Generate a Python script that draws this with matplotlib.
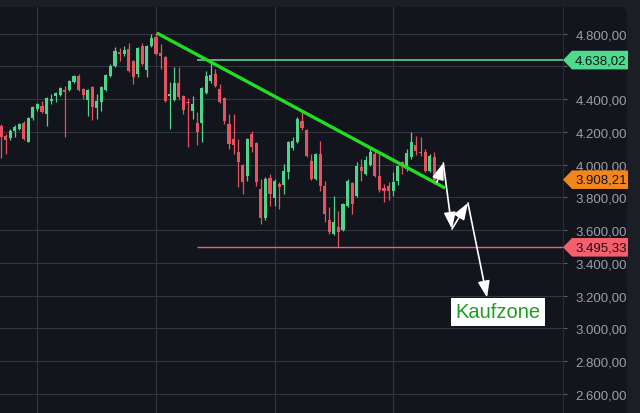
import matplotlib
matplotlib.use('Agg')
from matplotlib import pyplot as plt
from matplotlib.patches import Polygon, FancyBboxPatch
from matplotlib.transforms import IdentityTransform

plt.rcParams['font.family'] = ['Liberation Sans', 'DejaVu Sans']

# candle data (daily)
opens = [4237, 4173, 4160, 4207, 4217, 4254, 4140, 4282, 4339, 4356, 4309, 4390,
         4417, 4425, 4457, 4457, 4506, 4539, 4461, 4396, 4472, 4343, 4384, 4457,
         4543, 4604, 4689, 4677, 4705, 4634, 4553, 4726, 4579, 4722, 4777, 4681,
         4655, 4417, 4394, 4496, 4417, 4384, 4329, 4254, 4254, 4437, 4512, 4553,
         4461, 4405, 4248, 4156, 4079, 3997, 3932, 4187, 4132, 3851, 3672, 3916,
         3796, 3882, 3875, 3953, 4099, 4136, 4268, 4213, 4024, 3912, 4065, 3868,
         3664, 3576, 3617, 3603, 3749, 3888, 3810, 3983, 3943, 3997, 4065, 3932,
         3855, 3871, 3841, 3902, 4014, 3973, 4044, 4120, 4075, 4079, 3963, 4044]
highs = [4245, 4187, 4215, 4240, 4255, 4268, 4288, 4360, 4375, 4390, 4415, 4430,
         4445, 4475, 4481, 4515, 4547, 4553, 4468, 4462, 4480, 4431, 4478, 4555,
         4612, 4716, 4711, 4722, 4742, 4640, 4716, 4742, 4732, 4797, 4807, 4736,
         4665, 4504, 4594, 4594, 4425, 4406, 4417, 4321, 4475, 4571, 4624, 4583,
         4492, 4415, 4309, 4309, 4156, 4004, 4162, 4207, 4140, 3912, 3922, 3943,
         3910, 3894, 4004, 4145, 4168, 4290, 4323, 4220, 4065, 4072, 4146, 3900,
         3741, 3810, 3719, 3765, 3910, 3895, 4016, 4034, 4052, 4099, 4085, 4065,
         3881, 3894, 3955, 4000, 4024, 4095, 4197, 4173, 4166, 4095, 4065, 4079]
lows = [4040, 4065, 4150, 4168, 4210, 4150, 4135, 4275, 4330, 4312, 4237, 4370,
        4382, 4418, 4166, 4450, 4500, 4450, 4400, 4298, 4274, 4278, 4329, 4450,
        4535, 4598, 4634, 4665, 4565, 4492, 4533, 4605, 4535, 4715, 4670, 4583,
        4385, 4217, 4388, 4400, 4309, 4109, 4278, 4120, 4140, 4430, 4498, 4475,
        4378, 4250, 4095, 4065, 3861, 3820, 3902, 4077, 3871, 3637, 3665, 3745,
        3749, 3729, 3820, 3912, 4090, 4130, 4210, 4045, 3905, 3905, 3841, 3648,
        3576, 3570, 3495, 3595, 3740, 3698, 3800, 3902, 3935, 3990, 3924, 3835,
        3770, 3786, 3806, 3875, 3943, 3963, 4034, 4058, 4050, 3953, 3953, 3881]
closes = [4166, 4152, 4205, 4231, 4248, 4156, 4282, 4350, 4368, 4319, 4408, 4400,
          4437, 4466, 4441, 4510, 4539, 4457, 4425, 4455, 4350, 4388, 4472, 4547,
          4604, 4693, 4677, 4701, 4573, 4533, 4710, 4614, 4726, 4771, 4675, 4661,
          4390, 4429, 4496, 4411, 4335, 4376, 4368, 4197, 4466, 4542, 4547, 4481,
          4384, 4268, 4126, 4121, 4018, 3896, 4156, 4105, 3895, 3672, 3912, 3820,
          3902, 3861, 3963, 4136, 4146, 4278, 4221, 4054, 3912, 4065, 3868, 3698,
          3587, 3648, 3587, 3759, 3902, 3759, 3993, 3963, 4030, 4075, 3932, 3847,
          3841, 3841, 3895, 3993, 3983, 4071, 4140, 4085, 4069, 3960, 4051, 3908.21]

y_ticks = [2600, 2800, 3000, 3200, 3400, 3600, 3800, 4000, 4200, 4400, 4600, 4800]
# 4.600,00 sits behind the green price tag in the original
y_tick_labels = ['2.600,00', '2.800,00', '3.000,00', '3.200,00', '3.400,00', '3.600,00',
                 '3.800,00', '4.000,00', '4.200,00', '4.400,00', '', '4.800,00']
month_starts = [8, 34, 60, 86]

resistance = 4638.02
support = 3495.33
last_price = 3908.21

# trend line and the expected path drawn with arrows
trend_x = [34.2, 97.4]
trend_y = [4803, 3857]
path_x = [95.6, 97.0, 98.9, 102.4, 106.6]
path_y = [3893, 4010, 3607, 3766, 3188]

UP = '#4fd48c'
DOWN = '#e4535f'
BG = '#12151c'
OUTER = '#1b1e25'
GRID = '#33363e'

fig = plt.figure(figsize=(6.4, 4.14), dpi=100, facecolor=OUTER)
panel = FancyBboxPatch((-10, -10), 637, 416, boxstyle='round,pad=0,rounding_size=7',
                       transform=IdentityTransform(), fc=BG, ec='none', zorder=-5)
fig.patches.append(panel)

ax = fig.add_axes([0, 0, 563 / 640, 406 / 414])
ax.set_facecolor(BG)
ax.set_xlim(-0.22, 123.25)
ax.set_ylim(2484, 4962)

for y in y_ticks:
    ax.axhline(y, color=GRID, lw=0.8, zorder=0)
for x in month_starts:
    ax.axvline(x, color=GRID, lw=0.8, zorder=0)

# candles
for i in range(len(opens)):
    o, h, l, c = opens[i], highs[i], lows[i], closes[i]
    col = UP if c >= o else DOWN
    ax.vlines(i, l, h, color=col, lw=0.9, zorder=2)
    bottom = min(o, c)
    height = max(abs(c - o), 6)
    ax.bar(i, height, bottom=bottom, width=0.68, color=col, lw=0, zorder=3)

# levels
ax.hlines(resistance, 43, 123.25, color='#5fe29a', lw=1.1, zorder=2)
ax.hlines(support, 43, 123.25, color='#ee6070', lw=1.0, zorder=2)
ax.plot(trend_x, trend_y, color='#22dd22', lw=2.4, solid_capstyle='butt', zorder=4)

for k in range(len(path_x) - 1):
    ax.annotate('', xy=(path_x[k + 1], path_y[k + 1]), xytext=(path_x[k], path_y[k]),
                arrowprops=dict(arrowstyle='-|>,head_length=1.0,head_width=0.36',
                                color='white', lw=1.2, mutation_scale=10,
                                shrinkA=0, shrinkB=0), zorder=5)

ax.text(109.0, 3103, 'Kaufzone', fontsize=14.5, color='#1e9e1e', ha='center', va='center',
        bbox=dict(boxstyle='square,pad=0.22', fc='white', ec='none'), zorder=6)

# right price axis
ax.yaxis.tick_right()
ax.set_yticks(y_ticks, y_tick_labels)
ax.tick_params(axis='y', length=3, width=0.8, color='#5a5d66', labelcolor='#9c9fa8',
               labelsize=9.5, pad=6)
ax.set_xticks([])
for s in ['left', 'top', 'bottom']:
    ax.spines[s].set_visible(False)
ax.spines['right'].set_color('#2a2d35')

fig.canvas.draw()
units_per_px = (4962 - 2484) / 406.0
ax_w = 563.0


def price_tag(value, text, fc, tc):
    hh = 9.3 * units_per_px
    tip = 1.0
    sh = 1.0 + 9 / ax_w
    right = 1.0 + 65 / ax_w
    pts = [(tip, value), (sh, value + hh), (right, value + hh),
           (right, value - hh), (sh, value - hh)]
    poly = Polygon(pts, closed=True, transform=ax.get_yaxis_transform(), fc=fc,
                   ec='none', clip_on=False, zorder=10)
    ax.add_patch(poly)
    ax.text(1.0 + 12 / ax_w, value, text, transform=ax.get_yaxis_transform(),
            fontsize=9.5, color=tc, va='center', ha='left', clip_on=False, zorder=11)


price_tag(resistance, '4.638,02', '#4fdb8d', '#10141a')
price_tag(last_price, '3.908,21', '#f2861e', '#10141a')
price_tag(support, '3.495,33', '#f2606e', '#2a0a0e')

fig.savefig('out.png', dpi=100, facecolor=OUTER)
